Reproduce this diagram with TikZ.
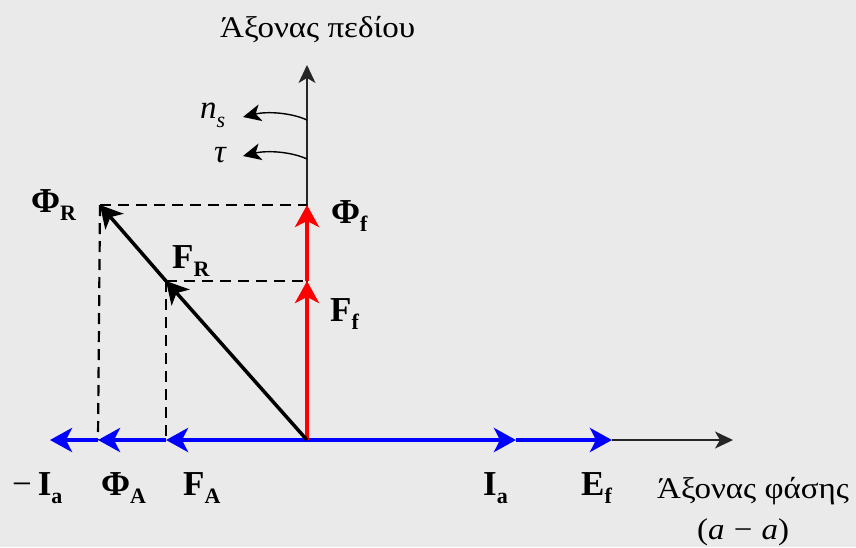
\documentclass[tikz,border=0pt]{standalone}
\usepackage{fontspec}
\setmainfont{Liberation Serif}
\usetikzlibrary{arrows.meta}
\definecolor{bg}{RGB}{234,234,234}
\definecolor{vblue}{RGB}{0,0,255}
\definecolor{vred}{RGB}{255,0,0}
\tikzset{
  tip/.style={-{Stealth[length=22pt,width=24pt,inset=6pt]}},
  smalltip/.style={-{Stealth[length=18pt,width=17pt,inset=5pt]}},
  bluevec/.style={vblue,line width=4pt,tip},
  redvec/.style={vred,line width=4pt,tip},
  blackvec/.style={black,line width=3.5pt,tip},
  axisline/.style={black!85,line width=1.2pt,smalltip},
  rotarrow/.style={black,line width=1.4pt,smalltip},
  guide/.style={black,line width=2.2pt,dash pattern=on 11pt off 7pt},
  lbl/.style={inner sep=0pt,anchor=base west,font=\fontsize{35}{35}\selectfont\bfseries},
  axlbl/.style={inner sep=0pt,anchor=base west,font=\fontsize{30}{32}\selectfont},
}
\newcommand{\wide}[1]{\scalebox{1.1}[1]{#1}}
\newcommand{\bsub}[2]{#1\raisebox{-0.23em}{\fontsize{22}{22}\selectfont\bfseries #2}}
\begin{document}
\begin{tikzpicture}[x=1pt,y=-1pt]
\fill[bg] (0,0) rectangle (856,547);
\useasboundingbox (0,0) rectangle (856,547);
% coordinates
\coordinate (O) at (307,440);
\coordinate (FA) at (166,440);
\coordinate (PhiA) at (98,440);
\coordinate (mIa) at (50,440);
\coordinate (Ia) at (516,440);
\coordinate (Ef) at (612,440);
\coordinate (Xend) at (733,440);
\coordinate (Ff) at (307,281);
\coordinate (Phif) at (307,205);
\coordinate (Yend) at (307,65);
\coordinate (FR) at (166,281);
\coordinate (PhiR) at (100,205);
\coordinate (nsA) at (307,120);
\coordinate (nsB) at (243,117);
\coordinate (tauA) at (307,159);
\coordinate (tauB) at (243,156);
% axes
\draw[axisline] (Ef) -- (Xend);
\draw[axisline] (O) -- (Yend);
% dashed guides
\draw[guide] (PhiR) -- (Phif);
\draw[guide] (PhiR) -- (PhiA);
\draw[guide] (FR) -- (Ff);
\draw[guide] (FR) -- (FA);
% blue vectors
\draw[bluevec] (O) -- (Ia);
\draw[bluevec] (Ia) -- (Ef);
\draw[bluevec] (O) -- (FA);
\draw[bluevec] (FA) -- (PhiA);
\draw[bluevec] (PhiA) -- (mIa);
% red vectors
\draw[redvec] (O) -- (Ff);
\draw[redvec] (Ff) -- (Phif);
% black resultant
\draw[blackvec] (O) -- (FR);
\draw[blackvec] (FR) -- (PhiR);
% rotation arrows
\draw[rotarrow] (nsA) .. controls (292,113) and (268,111) .. (nsB);
\draw[rotarrow] (tauA) .. controls (292,152) and (268,150) .. (tauB);
% labels
\node[axlbl] (tY) at (220,37) {\wide{Άξονας πεδίου}};
\node[axlbl,font=\fontsize{33}{34}\selectfont\itshape] (tns) at (200,118) {n\raisebox{-0.3em}{\fontsize{22}{22}\selectfont s}};
\node[axlbl,font=\fontsize{33}{34}\selectfont\itshape] (ttau) at (214,162) {τ};
\node[lbl] (lPhiR) at (31,212) {\bsub{Φ}{R}};
\node[lbl] (lPhif) at (331,223) {\bsub{Φ}{f}};
\node[lbl] (lFR) at (172,268) {\bsub{F}{R}};
\node[lbl] (lFf) at (330,321) {\bsub{F}{f}};
\node[lbl] (lmIa) at (12,495) {{\mdseries −}\,\bsub{I}{a}};
\node[lbl] (lPhiA) at (101,495) {\bsub{Φ}{A}};
\node[lbl] (lFA) at (183,495) {\bsub{F}{A}};
\node[lbl] (lIa) at (483,495) {\bsub{I}{a}};
\node[lbl] (lEf) at (581,495) {\bsub{E}{f}};
\node[axlbl] (tX1) at (657,498) {\wide{Άξονας φάσης}};
\node[axlbl] (tX2) at (697,539) {\wide{(\textit{a}\;−\;\textit{a})}};
\end{tikzpicture}
\end{document}
